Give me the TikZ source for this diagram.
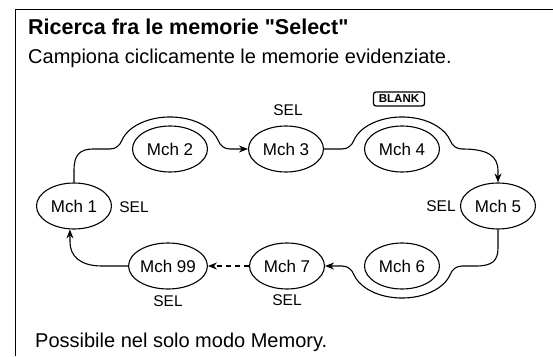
\documentclass[tikz,border=0pt]{standalone}
\usepackage{fontspec}
\setmainfont{Liberation Sans}[Ligatures=TeXOff]
\usetikzlibrary{arrows.meta,shapes.geometric}
\begin{document}
\begin{tikzpicture}[x=1pt,y=1pt,
  mch/.style={draw,ellipse,line width=1.1pt,minimum width=75pt,minimum height=46pt,inner sep=0pt,font=\fontsize{17}{17}\selectfont},
  sel/.style={font=\fontsize{15.5}{15.5}\selectfont,inner sep=0pt},
  conn/.style={line width=1.1pt},
  arr/.style={conn,-{Stealth[length=9pt,width=7pt]}},
  frame/.style={line width=0.9pt}
]
\useasboundingbox (0,0) rectangle (553,356);
% frame
\draw[frame] (15,0) -- (15,347) -- (553,347);
% texts
\node[anchor=base west,inner sep=0pt,font=\bfseries\fontsize{21.5}{21.5}\selectfont] (title) at (28,321) {Ricerca fra le memorie "Select"};
\node[anchor=base west,inner sep=0pt,font=\fontsize{20}{20}\selectfont] (sub) at (28,292) {Campiona ciclicamente le memorie evidenziate.};
\node[anchor=base west,inner sep=0pt,font=\fontsize{20}{20}\selectfont] (foot) at (35,9) {Possibile nel solo modo Memory.};
% nodes
\node[mch] (m1) at (74,150) {Mch 1};
\node[mch] (m2) at (170,207) {Mch 2};
\node[mch] (m3) at (286,207) {Mch 3};
\node[mch] (m4) at (402,207) {Mch 4};
\node[mch] (m5) at (498,150) {Mch 5};
\node[mch] (m6) at (402,90) {Mch 6};
\node[mch] (m7) at (287,90) {Mch 7};
\node[mch] (m99) at (168,90) {Mch 99};
% labels
\node[sel] (s3) at (288,246) {SEL};
\node[sel] (s1) at (134,149) {SEL};
\node[sel] (s5) at (441,150) {SEL};
\node[sel] (s99) at (168,55) {SEL};
\node[sel] (s7) at (287,56) {SEL};
\node[draw,rounded corners=2.5pt,line width=1.3pt,inner sep=0pt,minimum width=51pt,minimum height=14pt,font=\bfseries\fontsize{11.5}{11.5}\selectfont] (blank) at (399,257) {BLANK};
% connectors
\draw[arr] (m1.north) -- (74,186) .. controls (74,200) and (79,207) .. (93,207) -- (110,207)
  .. controls (116,207) and (119.8,210.7) .. (121.7,215.3)
  arc[start angle=165,end angle=15,x radius=50,y radius=32]
  .. controls (220.2,210.7) and (224,207) .. (230,207) -- (m3.west);
\draw[arr] (m3.east) -- (342,207) .. controls (348,207) and (351.8,210.7) .. (353.7,215.3)
  arc[start angle=165,end angle=15,x radius=50,y radius=32]
  .. controls (452.2,210.7) and (456,207) .. (462,207)
  .. controls (488,207) and (498,200) .. (498,185) -- (m5.north);
\draw[arr] (m5.south) -- (498,108) .. controls (498,95) and (492,90) .. (476,90) -- (462,90)
  .. controls (456,90) and (452.2,86.3) .. (450.3,81.7)
  arc[start angle=-15,end angle=-165,x radius=50,y radius=32]
  .. controls (351.8,86.3) and (348,90) .. (342,90) -- (m7.east);
\draw[arr,dash pattern=on 5pt off 4pt] (m7.west) -- (m99.east);
\draw[arr] (m99.west) -- (102,90) .. controls (80,90) and (70,100) .. (70,114) -- (m1.260);
\end{tikzpicture}
\end{document}
